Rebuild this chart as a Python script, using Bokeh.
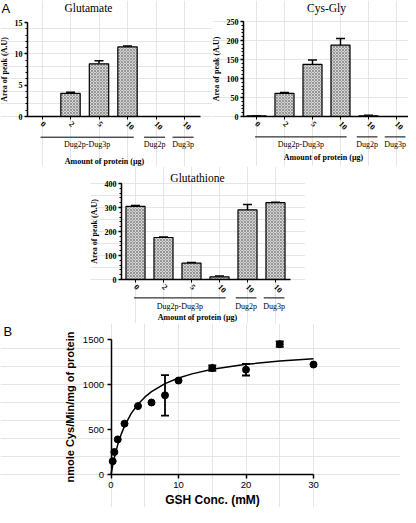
import math
from bokeh.plotting import figure
from bokeh.models import (ColumnDataSource, LinearAxis, FixedTicker, SingleIntervalTicker,
                          Range1d, Whisker, TeeHead, Label, Spacer, CustomJSTickFormatter)
from bokeh.layouts import column, row
from bokeh.core.properties import value
from bokeh.embed import file_html
from bokeh.resources import INLINE

# ---------------- data ----------------
amount_labels = ["0", "2", "5", "10", "10", "10"]
protein_groups = ["Dug2p-Dug3p", "Dug2p-Dug3p", "Dug2p-Dug3p", "Dug2p-Dug3p", "Dug2p", "Dug3p"]

glutamate_area = [0, 3.7, 8.4, 11.1, 0, 0]
glutamate_err = [0, 0.15, 0.5, 0.15, 0, 0]
cysgly_area = [2, 61, 137, 188, 2, 0]
cysgly_err = [0, 2, 12, 17, 1, 0]
glutathione_area = [305, 175, 68, 11, 290, 320]
glutathione_err = [3, 2, 3, 4, 22, 2]

gsh_conc = [0.25, 0.5, 1, 2, 4, 6, 8, 10, 15, 20, 25, 30]
cys_rate = [148, 250, 390, 565, 760, 800, 880, 1044, 1183, 1165, 1448, 1222]
cys_rate_err = [0, 0, 0, 0, 0, 0, 225, 0, 30, 65, 30, 0]

fit_conc = [0, 0.25, 0.5, 1, 1.5, 2, 3, 4, 5, 6, 8, 10, 12, 15, 20, 25, 30]
fit_rate = [0, 100, 188, 332, 446, 538, 679, 781, 859, 920, 1010, 1072, 1118, 1169, 1224, 1260, 1285]

b_xticks = [0, 10, 20, 30]
b_yticks = [0, 500, 1000, 1500]

SERIF = "Liberation Serif"
SANS = "Liberation Sans"


def group_runs(groups):
    runs = []
    start = 0
    for i in range(1, len(groups) + 1):
        if i == len(groups) or groups[i] != groups[start]:
            runs.append((groups[start], start, i - 1))
            start = i
    return runs


def bar_panel(title, vals, errs, ymax, interval, lay):
    W, H = lay["W"], lay["H"]
    cat_px = lay["cat_px"]
    per = ymax / (lay["y0"] - lay["ytop"])          # data units per px (y)
    x_lo = -lay["c0"] / cat_px
    x_hi = x_lo + W / cat_px
    y_hi = ymax + lay["ytop"] * per
    y_lo = y_hi - H * per

    def px2x(px):
        return x_lo + px / cat_px

    def py2y(py):
        return y_hi - py * per

    n = len(vals)
    idx = list(range(n))
    p = figure(frame_width=W, frame_height=H, x_range=Range1d(x_lo, x_hi), y_range=Range1d(y_lo, y_hi),
               x_axis_location=None, y_axis_location=None, min_border=0,
               toolbar_location=None, output_backend="svg")
    p.outline_line_color = None

    ya = LinearAxis(fixed_location=px2x(lay["ax_x"]), bounds=(0, ymax),
                    ticker=SingleIntervalTicker(interval=interval, num_minor_ticks=5),
                    axis_label="Area of peak (A.U)")
    ya.axis_line_width = 1.5
    ya.major_tick_line_width = 1.3
    ya.major_tick_out = 3
    ya.major_tick_in = 0
    ya.minor_tick_out = 2
    ya.minor_tick_in = 0
    ya.major_label_standoff = 2
    ya.axis_label_standoff = 3
    ya.major_label_text_font = SERIF
    ya.major_label_text_font_size = "8px"
    ya.major_label_text_font_style = "bold"
    ya.major_label_text_color = "black"
    ya.axis_label_text_font = SERIF
    ya.axis_label_text_font_size = "8px"
    ya.axis_label_text_font_style = "bold"
    ya.axis_label_text_color = "black"
    p.add_layout(ya, "left")

    xa = LinearAxis(fixed_location=0, bounds=(px2x(lay["ax_x"]), px2x(lay["ax_end"])),
                    ticker=FixedTicker(ticks=idx),
                    formatter=CustomJSTickFormatter(args=dict(labels=amount_labels),
                                                    code="return labels[Math.round(tick)]"),
                    major_label_orientation=-math.pi / 4)
    xa.axis_line_width = 1.5
    xa.major_tick_out = 3
    xa.major_tick_in = 0
    xa.major_label_standoff = 3
    xa.major_label_text_font = SERIF
    xa.major_label_text_font_size = "8px"
    xa.major_label_text_font_style = "bold"
    xa.major_label_text_color = "black"
    p.add_layout(xa, "below")

    src = ColumnDataSource(dict(x=idx, top=vals))
    p.vbar(x="x", top="top", bottom=0, width=0.68, source=src,
           fill_color="#d6d6d6", line_color="black", line_width=1.2,
           hatch_pattern="diagonal_cross", hatch_color="#6a6a6a", hatch_scale=3, hatch_weight=0.6)

    keep = [i for i in idx if vals[i] > 0]
    wsrc = ColumnDataSource(dict(x=keep, top=[vals[i] for i in keep],
                                 upper=[vals[i] + errs[i] for i in keep]))
    p.add_layout(Whisker(source=wsrc, base="x", lower="top", upper="upper", dimension="height",
                         line_width=1.5, line_color="black",
                         upper_head=TeeHead(size=9, line_width=1.5, line_color="black"),
                         lower_head=None))

    runs = group_runs(protein_groups)
    x0s, x1s, cx, names = [], [], [], []
    for name, a, b in runs:
        if a == b:
            s, e = a - 0.42, a + 0.32
        else:
            s, e = a - 0.05, b + 0.22
        x0s.append(s)
        x1s.append(e)
        cx.append((s + e) / 2)
        names.append(name)
    ly = -lay["line_dy"] * per
    p.segment(x0=x0s, y0=[ly] * len(runs), x1=x1s, y1=[ly] * len(runs),
              line_color="black", line_width=1)
    p.text(x=cx, y=[-lay["group_dy"] * per] * len(runs), text=names,
           text_font=value(SERIF), text_font_size="8px", text_align="center",
           text_baseline="middle", text_color="black")
    p.text(x=[px2x(lay["amount_cx"])], y=[-lay["amount_dy"] * per], text=["Amount of protein (µg)"],
           text_font=value(SERIF), text_font_size="8px", text_font_style="bold",
           text_align="center", text_baseline="middle", text_color="black")
    p.text(x=[px2x(lay["title_cx"])], y=[py2y(lay["title_cy"])], text=[title],
           text_font=value(SERIF), text_font_size="11.5px",
           text_align="center", text_baseline="middle", text_color="black")
    if lay.get("panel"):
        p.add_layout(Label(x=px2x(1), y=py2y(0), text=lay["panel"], text_font=SANS,
                           text_font_size="13px", text_baseline="top", text_color="black"))
    return p


p_glu = bar_panel("Glutamate", glutamate_area, glutamate_err, 15, 5,
                  dict(W=212, H=166, ax_x=27, ax_end=200, c0=41.5, cat_px=28.5, ytop=22, y0=116,
                       title_cx=88, title_cy=7, line_dy=20.7, group_dy=28, amount_dy=45,
                       amount_cx=104, panel="A"))
p_cys = bar_panel("Cys-Gly", cysgly_area, cysgly_err, 250, 50,
                  dict(W=196, H=166, ax_x=31, ax_end=196, c0=44, cat_px=28, ytop=21, y0=116,
                       title_cx=114, title_cy=7, line_dy=20.4, group_dy=28, amount_dy=41,
                       amount_cx=111))
p_gsh = bar_panel("Glutathione", glutathione_area, glutathione_err, 400, 100,
                  dict(W=215, H=157, ax_x=31, ax_end=200, c0=45, cat_px=28, ytop=17, y0=113,
                       title_cx=107, title_cy=11, line_dy=18.4, group_dy=26.7, amount_dy=38.4,
                       amount_cx=107))

# ---------------- panel B ----------------
ppx = 6.75      # px per mM
zero_x = 110.5
fw, fh = 400, 184
ytop_b, y0_b = 16, 151
per_b = b_yticks[-1] / (y0_b - ytop_b)
x_lo = -zero_x / ppx
x_hi = x_lo + fw / ppx
y_hi = b_yticks[-1] + ytop_b * per_b
y_lo = y_hi - fh * per_b

pB = figure(frame_width=fw, frame_height=fh, x_range=Range1d(x_lo, x_hi), y_range=Range1d(y_lo, y_hi),
            x_axis_location=None, y_axis_location=None, min_border=0,
            toolbar_location=None, output_backend="svg")
pB.outline_line_color = None

bx = LinearAxis(fixed_location=0, bounds=(b_xticks[0], b_xticks[-1]), ticker=FixedTicker(ticks=b_xticks),
                axis_label="GSH Conc. (mM)")
by = LinearAxis(fixed_location=0, bounds=(b_yticks[0], b_yticks[-1]), ticker=FixedTicker(ticks=b_yticks),
                axis_label="nmole Cys/Min/mg of protein")
for ax in (bx, by):
    ax.axis_line_width = 1.5
    ax.major_tick_line_width = 1.5
    ax.major_tick_out = 4
    ax.major_tick_in = 0
    ax.major_label_standoff = 3
    ax.axis_label_standoff = 4
    ax.major_label_text_font = SANS
    ax.major_label_text_font_size = "9.5px"
    ax.major_label_text_color = "black"
    ax.axis_label_text_font = SANS
    ax.axis_label_text_font_style = "bold"
    ax.axis_label_text_color = "black"
bx.axis_label_text_font_size = "12px"
bx.axis_label_standoff = 2
by.axis_label_text_font_size = "11px"
pB.add_layout(bx, "below")
pB.add_layout(by, "left")

pB.line(fit_conc, fit_rate, line_width=1.5, line_color="black")
pB.scatter(gsh_conc, cys_rate, size=7, marker="circle", fill_color="black", line_color="black")
ek = [i for i in range(len(gsh_conc)) if cys_rate_err[i] > 0]
esrc = ColumnDataSource(dict(x=[gsh_conc[i] for i in ek],
                             lo=[cys_rate[i] - cys_rate_err[i] for i in ek],
                             hi=[cys_rate[i] + cys_rate_err[i] for i in ek]))
pB.add_layout(Whisker(source=esrc, base="x", lower="lo", upper="hi", dimension="height",
                      line_width=1.8, line_color="black",
                      upper_head=TeeHead(size=8, line_width=1.8, line_color="black"),
                      lower_head=TeeHead(size=8, line_width=1.8, line_color="black")))
pB.add_layout(Label(x=x_lo + 3 / ppx, y=y_hi, text="B", text_font=SANS, text_font_size="13px",
                    text_baseline="top", text_color="black"))

layout = column(row(p_glu, p_cys), row(Spacer(width=90, height=157), p_gsh), pB)

open("out.html", "w").write(file_html(layout, INLINE))
